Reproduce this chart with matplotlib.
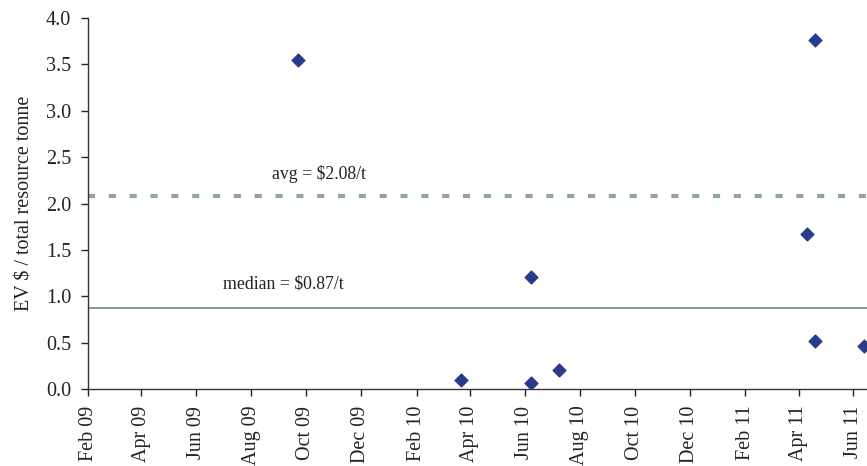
import matplotlib
matplotlib.use("Agg")
import matplotlib.pyplot as plt
import matplotlib.dates as mdates
import pandas as pd

# Data
dates = ["2009-09-22", "2010-03-22", "2010-06-08", "2010-06-08", "2010-07-09",
         "2011-04-10", "2011-04-19", "2011-04-19", "2011-06-13"]
values = [3.55, 0.10, 0.07, 1.21, 0.20, 1.67, 3.76, 0.52, 0.46]
avg_value = 2.08
median_value = 0.87
avg_label = "avg = $2.08/t"
median_label = "median = $0.87/t"
y_label = "EV $ / total resource tonne"

plt.rcParams['font.family'] = ['Liberation Serif', 'DejaVu Serif']

x = pd.to_datetime(dates)

fig = plt.figure(figsize=(8.67, 4.66), dpi=100)
ax = fig.add_axes([0.1015, 0.1652, 0.8985, 0.7962])

ax.axhline(avg_value, color="#8fa69d", lw=3.0, linestyle=(0, (1.7, 3.3)), zorder=1)
ax.axhline(median_value, color="#5e7d6f", lw=1.1, zorder=1)
ax.scatter(x, values, marker="D", s=42, color="#283a8a", zorder=3, clip_on=True)

ax.text(pd.Timestamp("2009-10-15"), 2.32, avg_label, ha="center", va="center", fontsize=12.8, color="#222222")
ax.text(pd.Timestamp("2009-09-06"), 1.13, median_label, ha="center", va="center", fontsize=12.8, color="#222222")

ax.set_xlim(pd.Timestamp("2009-02-01"), pd.Timestamp("2011-06-16"))
ax.set_ylim(0, 4.0)
ax.set_yticks([0, 0.5, 1.0, 1.5, 2.0, 2.5, 3.0, 3.5, 4.0])
ax.yaxis.set_major_formatter(matplotlib.ticker.FormatStrFormatter("%.1f"))
ax.xaxis.set_major_locator(mdates.MonthLocator(bymonth=[2, 4, 6, 8, 10, 12]))
ax.xaxis.set_major_formatter(mdates.DateFormatter("%b %y"))
for lbl in ax.get_xticklabels():
    lbl.set_rotation(90)

ax.tick_params(axis="both", labelsize=14.5, colors="#222222", direction="out", length=5, width=1, pad=7)
for side in ["top", "right"]:
    ax.spines[side].set_visible(False)
for side in ["left", "bottom"]:
    ax.spines[side].set_color("#333333")
    ax.spines[side].set_linewidth(1)

ax.set_ylabel(y_label, fontsize=14.5, color="#222222", labelpad=8)

fig.savefig("out.png", dpi=100)
